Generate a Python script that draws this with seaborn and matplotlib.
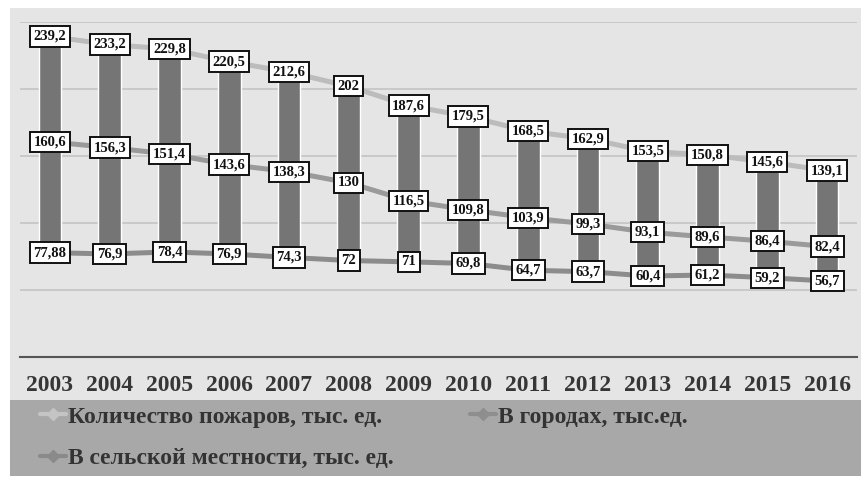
import matplotlib
matplotlib.use("Agg")
import matplotlib.pyplot as plt
from matplotlib.patches import Rectangle
from matplotlib.lines import Line2D
import numpy as np
import pandas as pd
import seaborn as sns

years = ["2003", "2004", "2005", "2006", "2007", "2008", "2009",
         "2010", "2011", "2012", "2013", "2014", "2015", "2016"]
total_fires = [239.2, 233.2, 229.8, 220.5, 212.6, 202, 187.6,
               179.5, 168.5, 162.9, 153.5, 150.8, 145.6, 139.1]
urban_fires = [160.6, 156.3, 151.4, 143.6, 138.3, 130, 116.5,
               109.8, 103.9, 99.3, 93.1, 89.6, 86.4, 82.4]
rural_fires = [77.88, 76.9, 78.4, 76.9, 74.3, 72, 71,
               69.8, 64.7, 63.7, 60.4, 61.2, 59.2, 56.7]

label_total = "Количество пожаров, тыс. ед."
label_urban = "В городах, тыс.ед."
label_rural = "В сельской местности, тыс. ед."

sns.set_theme(style="white")
plt.rcParams["font.family"] = ["Liberation Serif", "DejaVu Serif"]

W, H = 862, 478
fig = plt.figure(figsize=(W / 100, H / 100), dpi=100, facecolor="white")

# chart area and legend band backgrounds
fig.patches.append(Rectangle((10 / W, (H - 400) / H), (W - 10) / W, 392 / H,
                             transform=fig.transFigure, facecolor="#e5e5e5",
                             edgecolor="none", zorder=-2))
fig.patches.append(Rectangle((10 / W, (H - 476) / H), (W - 10) / W, 76 / H,
                             transform=fig.transFigure, facecolor="#a8a8a8",
                             edgecolor="none", zorder=-2))

ax = fig.add_axes([20 / W, (H - 357) / H, 837 / W, 335 / H])
ax.set_facecolor("none")
ax.set_zorder(2)

df = pd.DataFrame({
    "idx": np.arange(len(years)),
    "year": years,
    "total": total_fires,
    "urban": urban_fires,
    "rural": rural_fires,
})

# up-down bars between the total and rural series
ax.bar(df["idx"], df["total"] - df["rural"], bottom=df["rural"], width=0.38,
       color="#757575", zorder=2)

series = [("total", "#bcbcbc"), ("urban", "#9a9a9a"), ("rural", "#8c8c8c")]
for col, colr in series:
    sns.lineplot(data=df, x="idx", y=col, ax=ax, color=colr, linewidth=3.6,
                 zorder=3, legend=False)

for col, _ in series:
    for i, v in zip(df["idx"], df[col]):
        txt = f"{v:g}".replace(".", ",")
        ax.text(i, v, txt, ha="center", va="center", fontsize=10.5,
                fontweight="bold", color="#111111", zorder=5,
                bbox=dict(boxstyle="square,pad=0.25", facecolor="white",
                          edgecolor="#111111", linewidth=1.4))

ax.set_xlim(-0.5, len(years) - 0.5)
ax.set_ylim(0, 250)
ax.set_yticks([50, 100, 150, 200, 250])
ax.yaxis.grid(True, color="#c9c9c9", linewidth=1.4)
ax.set_axisbelow(True)
ax.tick_params(axis="y", left=False, labelleft=False)
ax.set_xticks(df["idx"])
ax.set_xticklabels(years, fontsize=17, fontweight="bold", color="#363636")
ax.tick_params(axis="x", bottom=False, pad=7)
ax.set_xlabel("")
ax.set_ylabel("")
for s in ["top", "left", "right"]:
    ax.spines[s].set_visible(False)
ax.spines["bottom"].set_color("#555555")
ax.spines["bottom"].set_linewidth(1.5)

def handle(colr):
    return Line2D([], [], color=colr, linewidth=3, marker="D", markersize=6)

leg_kw = dict(frameon=False, fontsize=17, handlelength=1.1, handletextpad=0.1,
              labelspacing=0.85, borderpad=0, borderaxespad=0)
leg1 = fig.legend([handle("#c4c4c4"), handle("#8a8a8a")], [label_total, label_rural],
                  loc="upper left", bbox_to_anchor=(40 / W, (H - 406) / H), **leg_kw)
leg2 = fig.legend([handle("#8e8e8e")], [label_urban],
                  loc="upper left", bbox_to_anchor=(470 / W, (H - 406) / H), **leg_kw)
for leg in (leg1, leg2):
    for t in leg.get_texts():
        t.set_fontweight("bold")
        t.set_color("#333333")

fig.savefig("out.png", dpi=100, facecolor="white")
